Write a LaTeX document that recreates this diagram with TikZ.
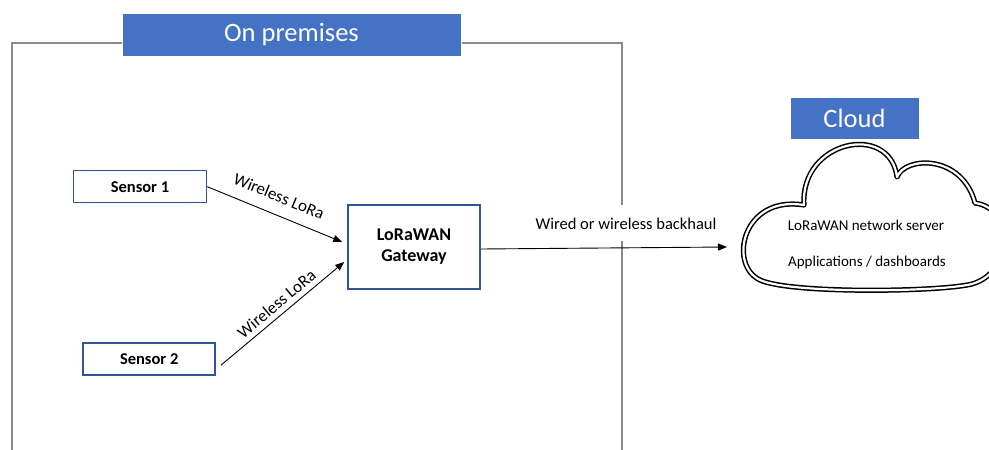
\documentclass[tikz,border=0pt]{standalone}
\usepackage{fontspec}
\setmainfont{Carlito}
\usetikzlibrary{calc,arrows.meta}
\definecolor{banner}{HTML}{4472C4}
\definecolor{boxedge}{HTML}{2F5597}
\definecolor{frame}{HTML}{8C8C8C}
\tikzset{
  banner/.style={fill=banner, draw=white, line width=1pt, text=white,
    font=\fontsize{26.5}{30}\selectfont, inner sep=0pt},
  device/.style={draw=boxedge, line width=1.5pt, fill=white, align=center,
    font=\bfseries\fontsize{16.5}{20.5}\selectfont, inner sep=0pt},
  link/.style={line width=0.9pt, -{Triangle[length=9pt,width=7pt]}},
  linklabel/.style={font=\fontsize{17}{19}\selectfont, inner sep=1pt},
  cloudline/.style={draw=black, line width=1.5pt, double=white, double distance=2.2pt,
    line join=round},
  cloudtext/.style={font=\fontsize{15}{18}\selectfont, inner sep=1pt}
}
\begin{document}
\begin{tikzpicture}[x=1pt, y=-1pt]
\useasboundingbox (0,0) rectangle (989,450);

% on-premises boundary
\draw[frame, line width=2pt] (12,452) -- (12,43) -- (622,43) -- (622,452);
\node[banner, minimum width=339pt, minimum height=43pt] (prem) at (291.5,34.5) {On premises};

% devices on site
\node[device, minimum width=133pt, minimum height=32pt] (s1) at (140,186.7) {Sensor 1};
\node[device, minimum width=132pt, minimum height=32pt] (s2) at (149.2,359.2) {Sensor 2};
\node[device, minimum width=132pt, minimum height=84pt,
      font=\bfseries\fontsize{18}{21}\selectfont] (gw) at (414,247) {LoRaWAN\\Gateway};

% radio links
\draw[link] (s1.east) -- node[linklabel, sloped, above=11pt, pos=0.48] (l1) {Wireless LoRa}
  ($(gw.west)+(-5,-5)$);
\draw[link] ($(s2.east)+(5,6)$) -- node[linklabel, sloped, above=4pt, pos=0.51] (l2) {Wireless LoRa}
  ($(gw.west)+(-3,15)$);

% backhaul to the cloud
\coordinate (cin) at (727,247);
\draw[link] ($(gw.east)+(0,2)$) -- node[linklabel, fill=white, pos=0.59, above=6pt,
  minimum height=36pt, font=\fontsize{16.5}{19}\selectfont] (bh) {Wired or wireless backhaul} (cin);

% cloud
\node[banner, minimum width=129pt, minimum height=42pt] (cloudt) at (854.5,118) {Cloud};
\draw[cloudline] (804,205)
  .. controls (800,140) and (890,122) .. (897,177)
  .. controls (905,156) and (962,154) .. (975,203)
  .. controls (1014,208) and (1014,272) .. (972,284)
  .. controls (940,292) and (790,294) .. (760,280)
  .. controls (728,265) and (742,195) .. (804,205) -- cycle;
\node[cloudtext] (ns) at (866,225) {LoRaWAN network server};
\node[cloudtext] (apps) at (867,262) {Applications / dashboards};
\end{tikzpicture}
\end{document}
